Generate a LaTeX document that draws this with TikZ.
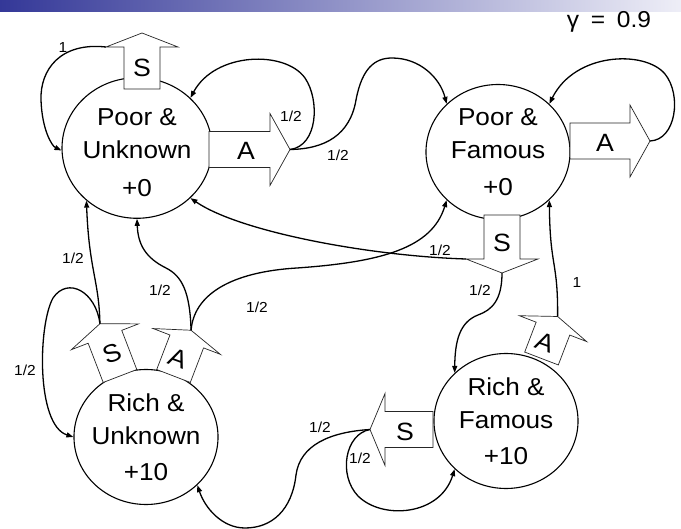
\documentclass[tikz,border=0pt]{standalone}
\usepackage{fontspec}
\setmainfont{Liberation Sans}
\usetikzlibrary{shapes.geometric,arrows.meta}
\definecolor{bandL}{RGB}{52,56,152}
\definecolor{bandR}{RGB}{238,238,247}
\newcommand{\blockarr}[5]{%
\begin{scope}[shift={#2},rotate=#3]
 \draw[barrow] (-18,0) -- (-18,-#4) -- (-36,-#4) -- (0,-#4-#5) -- (36,-#4) -- (18,-#4) -- (18,0) -- cycle;
 \coordinate (#1tip) at (0,-#4-#5);
 \coordinate (#1l) at (-36,-#4);
 \coordinate (#1r) at (36,-#4);
\end{scope}}
\begin{document}
\begin{tikzpicture}[x=1pt,y=-1pt,
 state/.style={circle,draw,line width=1.1pt,minimum size=135pt,inner sep=0pt,align=center,xscale=1.067,font=\fontsize{24.5}{33}\selectfont},
 barrow/.style={draw=black!85,line width=0.7pt,fill=white},
 conn/.style={line width=1.3pt,-{Triangle[length=7pt,width=5pt]}},
 prob/.style={font=\fontsize{14.5}{16}\selectfont,inner sep=0pt,xscale=1.067},
 alab/.style={font=\fontsize{25}{28}\selectfont,inner sep=0pt,xscale=1.067}]
\useasboundingbox (0,0) rectangle (681,529);
\shade[left color=bandL,right color=bandR] (0,0) rectangle (681,12);
\node[font=\fontsize{23}{24}\selectfont,inner sep=0pt,xscale=1.067] (gam) at (609,22) {γ\hspace{11pt}=\hspace{11pt}0.9};

\node[state] (PU) at (137,148) {\rule{0pt}{26pt}Poor \&\\Unknown\\[5pt]+0};
\node[state] (PF) at (498,152) {Poor \&\\Famous\\[4pt]+0};
\node[state] (RU) at (146,437) {Rich \&\\Unknown\\[3pt]+10};
\node[state] (RF) at (506,421) {Rich \&\\Famous\\[3pt]+10};

\blockarr{PUs}{(142,89)}{0}{42}{14}
\blockarr{PUa}{(209,149.5)}{-90}{61}{20}
\blockarr{PFa}{(570,141)}{-90}{60}{20}
\blockarr{PFs}{(502,215)}{180}{44}{14}
\blockarr{RFs}{(433,429.5)}{90}{48}{15}
\blockarr{RFa}{(541.5,358.5)}{-21}{32}{13}
\blockarr{RUs}{(120,376)}{21}{42}{14}
\blockarr{RUa}{(173.5,376)}{-21}{37}{12}

\node[alab] (PUsL) at (142,68) {S};
\node[alab] (PUaL) at (246,151) {A};
\node[alab] (PFaL) at (605,143) {A};
\node[alab] (PFsL) at (502,243) {S};
\node[alab] (RFsL) at (405,432) {S};
\node[alab,rotate=-21] (RFaL) at (545,342) {A};
\node[alab,rotate=21] (RUsL) at (112,353) {S};
\node[alab,rotate=-21] (RUaL) at (178,358) {A};

\draw[conn] (PUsl) .. controls (60,42) and (40,70) .. (41,100) .. controls (42,130) and (52,146) .. (PU.182);
\draw[conn] (PUatip) .. controls (318,146) and (320,100) .. (305,78) .. controls (285,50) and (215,52) .. (PU.45);
\draw[conn] (PUatip) .. controls (325,149) and (350,135) .. (356,100) .. controls (362,68) and (375,58) .. (392,58) .. controls (420,58) and (440,78) .. (PF.135);
\draw[conn] (PFatip) .. controls (676,140) and (682,95) .. (665,74) .. controls (645,50) and (575,52) .. (PF.45);
\draw[conn] (PFsr) .. controls (370,256) and (240,232) .. (PU.-45);
\draw[conn] (PFstip) .. controls (502,300) and (492,310) .. (478,315) .. controls (460,322) and (455,340) .. (RF.135);
\draw[conn] (RFatip) .. controls (558,260) and (550,268) .. (PF.-45);
\draw[conn] (RFstip) .. controls (345,434) and (338,475) .. (358,496) .. controls (382,520) and (440,516) .. (RF.225);
\draw[conn] (RFstip) .. controls (330,432) and (300,445) .. (296,475) .. controls (292,510) and (272,528) .. (245,528) .. controls (222,528) and (205,508) .. (RU.-45);
\draw[conn] (RUstip) .. controls (99,280) and (89,270) .. (PU.228);
\draw[conn] (RUstip) .. controls (96,292) and (68,276) .. (53,298) .. controls (38,325) and (36,425) .. (RU.180);
\draw[conn] (RUatip) .. controls (190,292) and (182,276) .. (166,268) .. controls (146,258) and (138,245) .. (PU.270);
\draw[conn] (RUatip) .. controls (194,295) and (230,272) .. (297,268) .. controls (382,262) and (432,248) .. (PF.225);

\node[prob] (l1) at (63,48) {1};
\node[prob] (l2) at (291,116) {1/2};
\node[prob] (l3) at (338,155) {1/2};
\node[prob] (l4) at (440,250) {1/2};
\node[prob] (l5) at (480,290) {1/2};
\node[prob] (l6) at (577,283) {1};
\node[prob] (l7) at (360,458) {1/2};
\node[prob] (l8) at (320,427) {1/2};
\node[prob] (l9) at (73,258) {1/2};
\node[prob] (l10) at (25,370) {1/2};
\node[prob] (l11) at (160,290) {1/2};
\node[prob] (l12) at (257,307) {1/2};
\end{tikzpicture}
\end{document}
